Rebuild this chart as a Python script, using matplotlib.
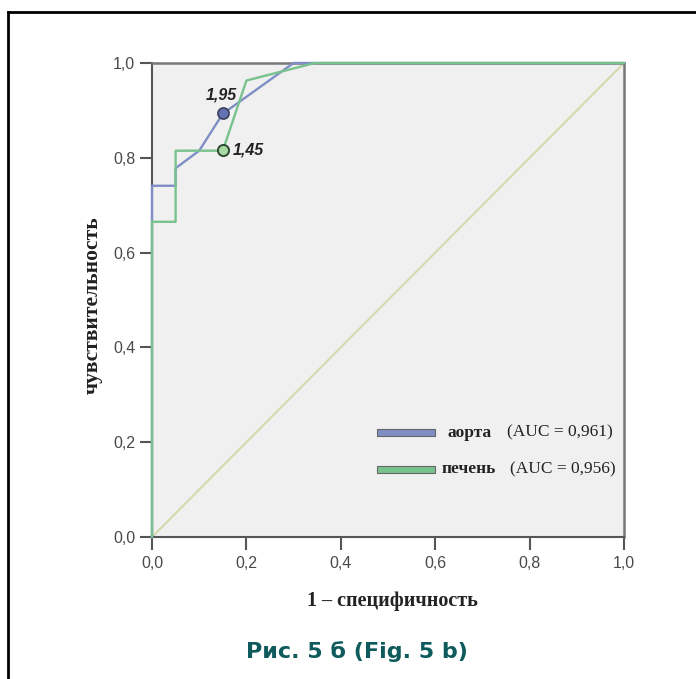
import matplotlib
matplotlib.use("Agg")
import matplotlib.pyplot as plt
from matplotlib.lines import Line2D
from matplotlib.patches import Rectangle

# ---- data ----
aorta_fpr = [0.0, 0.0, 0.05, 0.05, 0.10, 0.15, 0.30, 1.0]
aorta_tpr = [0.0, 0.741, 0.741, 0.778, 0.815, 0.893, 1.0, 1.0]
liver_fpr = [0.0, 0.0, 0.05, 0.05, 0.15, 0.20, 0.345, 1.0]
liver_tpr = [0.0, 0.665, 0.665, 0.815, 0.815, 0.963, 1.0, 1.0]
cut_aorta = (0.151, 0.894, "1,95")
cut_liver = (0.151, 0.816, "1,45")
series_names = ["аорта", "печень"]
auc_labels = ["(AUC = 0,961)", "(AUC = 0,956)"]
ticks = [0.0, 0.2, 0.4, 0.6, 0.8, 1.0]
tick_labels = ["0,0", "0,2", "0,4", "0,6", "0,8", "1,0"]

blue = "#7f8fc6"
green = "#78c28e"

W, H = 696, 679
fig = plt.figure(figsize=(W / 100, H / 100), dpi=100)
fig.patch.set_facecolor("white")

ax = fig.add_axes([152 / W, (H - 537) / H, 472 / W, 474 / H])
ax.set_facecolor("#f0f0f0")
ax.set_xlim(0, 1)
ax.set_ylim(0, 1)

# diagonal reference
ax.plot([0, 1], [0, 1], color="#d6d9ae", lw=1.5, zorder=2)

ax.plot(aorta_fpr, aorta_tpr, color=blue, lw=1.7, zorder=3, clip_on=False)
ax.plot(liver_fpr, liver_tpr, color=green, lw=1.7, zorder=4, clip_on=False)

ax.plot(cut_aorta[0], cut_aorta[1], "o", ms=8, mfc="#6272b4", mec="#3a3f5a", mew=1.2, zorder=5)
ax.plot(cut_liver[0], cut_liver[1], "o", ms=8, mfc="#a8d8a4", mec="#2f4a30", mew=1.4, zorder=5)
ax.text(cut_aorta[0] - 0.004, cut_aorta[1] + 0.022, cut_aorta[2], ha="center", va="bottom",
        fontsize=11.5, fontweight="bold", fontstyle="italic", family="Liberation Sans", color="#222222")
ax.text(cut_liver[0] + 0.019, cut_liver[1], cut_liver[2], ha="left", va="center",
        fontsize=11.5, fontweight="bold", fontstyle="italic", family="Liberation Sans", color="#222222")

# spines
for s in ["left", "bottom"]:
    ax.spines[s].set_color("#555555")
    ax.spines[s].set_linewidth(1.5)
for s in ["top", "right"]:
    ax.spines[s].set_color("#777777")
    ax.spines[s].set_linewidth(1.8)

ax.set_xticks(ticks)
ax.set_xticklabels(tick_labels)
ax.set_yticks(ticks)
ax.set_yticklabels(tick_labels)
ax.tick_params(direction="out", length=9, width=1.5, color="#555555",
               labelsize=11.5, labelcolor="#4a4a4a", pad=3)
ax.tick_params(axis="x", pad=5)
for lab in ax.get_xticklabels() + ax.get_yticklabels():
    lab.set_family("Liberation Sans")

ax.set_xlabel("1 – специфичность", family="Liberation Serif", fontweight="bold",
              fontsize=14.5, color="#222222")
ax.xaxis.set_label_coords(0.51, -0.114)
ax.set_ylabel("чувствительность", family="Liberation Serif", fontweight="bold",
              fontsize=15.5, color="#222222")
ax.yaxis.set_label_coords(-0.104, 0.49)

# legend (drawn manually)
leg_y = [0.22, 0.143]
leg_cols = [blue, green]
name_x = [0.625, 0.614]
auc_x = [0.752, 0.758]
for i in range(2):
    ax.add_patch(Rectangle((0.477, leg_y[i] - 0.0075), 0.123, 0.015, transform=ax.transAxes,
                           facecolor=leg_cols[i], edgecolor="#666666", lw=0.8, zorder=6))
    ax.text(name_x[i], leg_y[i], series_names[i], transform=ax.transAxes, ha="left", va="center",
            family="Liberation Serif", fontweight="bold", fontsize=12.5, color="#222222")
    ax.text(auc_x[i], leg_y[i], auc_labels[i], transform=ax.transAxes, ha="left", va="center",
            family="Liberation Serif", fontsize=12.5, color="#222222")

# caption
fig.text(357 / W, 1 - 652 / H, "Рис. 5 б (Fig. 5 b)", ha="center", va="center",
         family="DejaVu Sans", fontweight="bold", fontsize=16, color="#0e5a5c")

# page frame lines
fig.add_artist(Line2D([8 / W, 1], [1 - 12 / H, 1 - 12 / H], color="black", lw=2, transform=fig.transFigure))
fig.add_artist(Line2D([8 / W, 8 / W], [0, 1 - 12 / H], color="black", lw=2, transform=fig.transFigure))

fig.savefig("out.png", dpi=100)
